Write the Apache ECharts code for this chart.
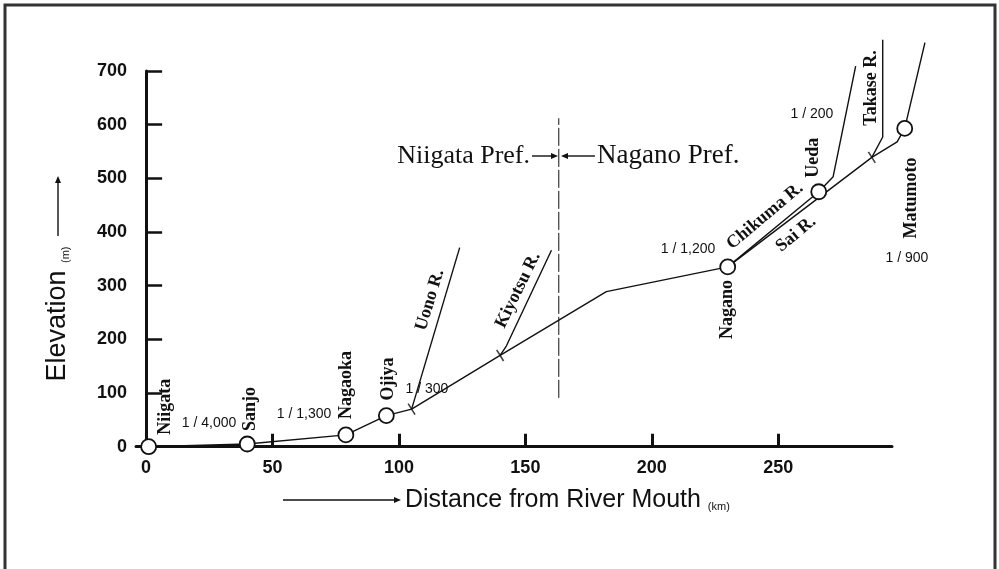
<!DOCTYPE html>
<html>
<head>
<meta charset="utf-8">
<title>Shinano River longitudinal profile</title>
<script src="https://cdn.jsdelivr.net/npm/echarts@6/dist/echarts.min.js"></script>
<style>
  html, body { margin: 0; padding: 0; background: #fff; }
  #profileChart { width: 999px; height: 569px; }
</style>
</head>
<body>
<div id="profileChart"></div>
<script>
// towns along the river (distance km, elevation m)
const stationNames = ['Niigata', 'Sanjo', 'Nagaoka', 'Ojiya', 'Nagano', 'Ueda', 'Matumoto']
const stationKm = [1, 40, 79, 95, 230, 266, 300]
const stationElev = [0, 5, 22, 58, 335, 475, 593]

// main stem Niigata -> Nagano
const mainKm = [1, 40, 79, 95, 105, 140, 182, 230]
const mainElev = [0, 5, 22, 58, 70, 170, 289, 335]
// Chikuma R. Nagano -> Ueda -> upstream
const chikumaKm = [230, 266, 271.7, 280.6]
const chikumaElev = [335, 475, 503, 709]
// Sai R. Nagano -> Matumoto -> upstream
const saiKm = [230, 287, 297, 300, 308]
const saiElev = [335, 539, 568, 593, 753]

// tributaries
const uonoKm = [105, 124]
const uonoElev = [70, 371]
const kiyotsuKm = [140, 142.5, 160.3]
const kiyotsuElev = [170, 188, 366]
const takaseKm = [287, 291.3, 291.3]
const takaseElev = [539, 577, 758]

// confluence marks
const junctionKm = [105, 140, 287]
const junctionElev = [70, 170, 539]

// prefecture border
const borderKm = 163.2
const borderElev = [91, 612]

const xTicks = [0, 50, 100, 150, 200, 250]
const yTicks = [0, 100, 200, 300, 400, 500, 600, 700]

const ink = '#111'
const serif = 'Liberation Serif'
const sans = 'Liberation Sans'

function pairs(xs, ys) {
  return xs.map((x, i) => [x, ys[i]])
}

function riverLine(xs, ys) {
  return {
    type: 'line',
    xAxisIndex: 1,
    yAxisIndex: 1,
    data: pairs(xs, ys),
    symbol: 'none',
    clip: false,
    silent: true,
    z: 2,
    lineStyle: { color: ink, width: 1.4 }
  }
}

// label placement per station, screen px from circle centre [dx, dy]
const stationLabelShift = [[17, -12], [3, -13], [0, -16], [2, -15], [0, 13], [-5, -14], [7, 29]]
const stationLabelAlign = ['left', 'left', 'left', 'left', 'right', 'left', 'right']

// free annotations: [text, x, y, rotate(deg), font, align]
const annotations = [
  ['1 / 4,000', 209, 423, 0, '14px ' + sans, 'center'],
  ['1 / 1,300', 304, 414, 0, '14px ' + sans, 'center'],
  ['1 / 300', 427, 389, 0, '14px ' + sans, 'center'],
  ['1 / 1,200', 688, 249, 0, '14px ' + sans, 'center'],
  ['1 / 200', 812, 114, 0, '14px ' + sans, 'center'],
  ['1 / 900', 907, 258, 0, '14px ' + sans, 'center'],
  ['Uono R.', 430, 300, 73, 'bold 18px ' + serif, 'center'],
  ['Kiyotsu R.', 518, 290, 64, 'bold 18px ' + serif, 'center'],
  ['Chikuma R.', 765, 216, 40, 'bold 18px ' + serif, 'center'],
  ['Sai R.', 796, 234, 40, 'bold 18px ' + serif, 'center'],
  ['Takase R.', 871, 88, 90, 'bold 18px ' + serif, 'center'],
  ['Niigata Pref.', 530, 156, 0, '26px ' + serif, 'right'],
  ['Nagano Pref.', 597, 156, 0, '27px ' + serif, 'left']
]

const graphic = annotations.map(a => ({
  type: 'text',
  x: a[1],
  y: a[2],
  rotation: a[3] * Math.PI / 180,
  style: { text: a[0], font: a[4], fill: ink, align: a[5], verticalAlign: 'middle' }
}))

// arrows beside the prefecture names and axis names
function arrow(x1, y1, x2, y2) {
  const ang = Math.atan2(y2 - y1, x2 - x1)
  const L = 7
  const W = 3
  const bx = x2 - L * Math.cos(ang)
  const by = y2 - L * Math.sin(ang)
  return [
    { type: 'line', shape: { x1: x1, y1: y1, x2: bx, y2: by }, style: { stroke: ink, lineWidth: 1.4 } },
    {
      type: 'polygon',
      shape: {
        points: [[x2, y2], [bx - W * Math.sin(ang), by + W * Math.cos(ang)], [bx + W * Math.sin(ang), by - W * Math.cos(ang)]]
      },
      style: { fill: ink }
    }
  ]
}
graphic.push(...arrow(532, 156, 558, 156))
graphic.push(...arrow(595, 156, 561, 156))
graphic.push(...arrow(283, 500, 401, 500))
graphic.push(...arrow(58, 236, 58, 176))

graphic.push({
  type: 'text',
  x: 405,
  y: 500,
  style: {
    text: 'Distance from River Mouth {s|(km)}',
    font: '25px ' + sans,
    fill: ink,
    align: 'left',
    verticalAlign: 'middle',
    rich: { s: { font: '11px ' + sans, fill: ink, verticalAlign: 'bottom' } }
  }
})
graphic.push({
  type: 'text',
  x: 58,
  y: 314,
  rotation: Math.PI / 2,
  style: {
    text: 'Elevation {s|(m)}',
    font: '27px ' + sans,
    fill: ink,
    align: 'center',
    verticalAlign: 'middle',
    rich: { s: { font: '11px ' + sans, fill: ink, verticalAlign: 'bottom' } }
  }
})

// frame around the figure
graphic.push({
  type: 'polyline',
  shape: { points: [[5, 569], [5, 5], [995, 5], [995, 569]] },
  style: { stroke: '#333', lineWidth: 3, fill: null }
})

// label offset is given in the rotated text frame, so [dx, dy] -> [-dy, dx]
const stationData = stationNames.map((name, i) => ({
  value: [stationKm[i], stationElev[i]],
  label: {
    show: true,
    formatter: name,
    position: 'inside',
    rotate: 90,
    offset: [-stationLabelShift[i][1], stationLabelShift[i][0]],
    align: stationLabelAlign[i],
    verticalAlign: 'middle',
    color: ink,
    fontFamily: serif,
    fontWeight: 'bold',
    fontSize: 18
  }
}))

const option = {
  backgroundColor: '#fff',
  animation: false,
  // grid 0 carries the visible axes, grid 1 (same scale, wider) carries the marks
  grid: [
    { left: 136, right: 107, top: 71, bottom: 118 },
    { left: 136, right: 69, top: 71, bottom: 118 }
  ],
  xAxis: [
    {
      type: 'value',
      gridIndex: 0,
      min: -4,
      max: 295,
      splitLine: { show: false },
      axisLine: { lineStyle: { color: ink, width: 3 } },
      axisTick: { inside: true, length: 13, customValues: xTicks.slice(1), lineStyle: { color: ink, width: 3 } },
      axisLabel: { customValues: xTicks, color: ink, fontFamily: sans, fontWeight: 'bold', fontSize: 18, margin: 8 }
    },
    { type: 'value', gridIndex: 1, min: -4, max: 310, show: false }
  ],
  yAxis: [
    {
      type: 'value',
      gridIndex: 0,
      min: -8,
      max: 700,
      splitLine: { show: false },
      axisLine: { lineStyle: { color: ink, width: 3 } },
      axisTick: { inside: true, length: 16, customValues: yTicks, lineStyle: { color: ink, width: 2.5 } },
      axisLabel: { customValues: yTicks, color: ink, fontFamily: sans, fontWeight: 'bold', fontSize: 18, margin: 9 }
    },
    { type: 'value', gridIndex: 1, min: -8, max: 700, show: false }
  ],
  graphic: graphic,
  series: [
    riverLine(mainKm, mainElev),
    riverLine(chikumaKm, chikumaElev),
    riverLine(saiKm, saiElev),
    riverLine(uonoKm, uonoElev),
    riverLine(kiyotsuKm, kiyotsuElev),
    riverLine(takaseKm, takaseElev),
    {
      type: 'line',
      xAxisIndex: 1,
      yAxisIndex: 1,
      data: [[borderKm, borderElev[0]], [borderKm, borderElev[1]]],
      symbol: 'none',
      silent: true,
      lineStyle: { color: ink, width: 1, type: [18, 3] }
    },
    {
      type: 'scatter',
      xAxisIndex: 1,
      yAxisIndex: 1,
      data: pairs(junctionKm, junctionElev),
      symbol: 'rect',
      symbolSize: [1.6, 13],
      symbolRotate: 32,
      silent: true,
      z: 3,
      itemStyle: { color: ink }
    },
    {
      type: 'scatter',
      xAxisIndex: 1,
      yAxisIndex: 1,
      data: stationData,
      symbol: 'circle',
      symbolSize: 15,
      clip: false,
      silent: true,
      z: 4,
      itemStyle: { color: '#fff', borderColor: ink, borderWidth: 1.8, opacity: 1 }
    }
  ]
}

const chart = echarts.init(document.getElementById('profileChart'))
chart.setOption(option)
</script>
</body>
</html>
